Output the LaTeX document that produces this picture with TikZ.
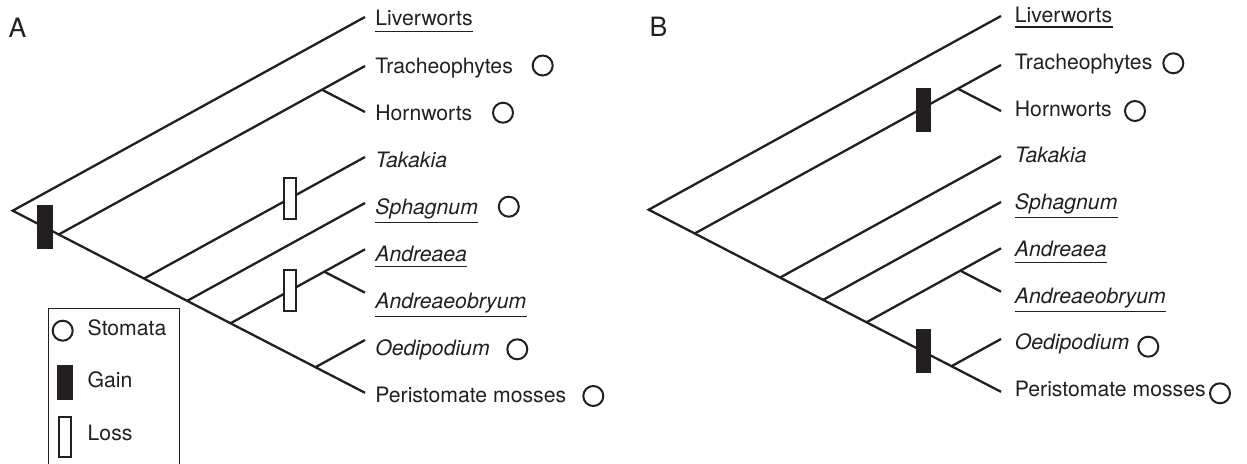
\documentclass[tikz,border=0pt]{standalone}
\usepackage{fontspec}
\setmainfont{TeX Gyre Heros}
\definecolor{ink}{RGB}{35,31,32}
\newcommand\treebranches{%
  \coordinate (root) at (12.7,210.7);
  \coordinate (lv) at (365,17);
  \coordinate (tr) at (365,66);
  \coordinate (ho) at (365,112);
  \coordinate (ta) at (365,157);
  \coordinate (sp) at (365,203);
  \coordinate (an) at (365,249.3);
  \coordinate (ab) at (365,292.7);
  \coordinate (oe) at (365,340);
  \coordinate (pe) at (365,392.8);
  \coordinate (ntr) at (58.7,234.5);
  \coordinate (nta) at (144,278.6);
  \coordinate (nsp) at (187.1,300.9);
  \coordinate (nan) at (230.5,323.3);
  \coordinate (noe) at (315.5,367.2);
  \coordinate (nho) at (321.9,89.7);
  \coordinate (nab) at (324.3,271.7);
  \draw[branch] (lv) -- (root) -- (pe);
  \draw[branch] (ntr) -- (tr);
  \draw[branch] (nho) -- (ho);
  \draw[branch] (nta) -- (ta);
  \draw[branch] (nsp) -- (sp);
  \draw[branch] (nan) -- (an);
  \draw[branch] (nab) -- (ab);
  \draw[branch] (noe) -- (oe);
}
\begin{document}
\begin{tikzpicture}[x=0.5pt,y=-0.5pt,
  branch/.style={line width=1.15pt, draw=ink},
  lbl/.style={anchor=base west, inner sep=0pt, text=ink, font=\fontsize{10.6}{12}\selectfont},
  ilbl/.style={lbl, font=\fontsize{10.6}{12}\selectfont\itshape},
  panel/.style={anchor=base west, inner sep=0pt, text=ink, font=\fontsize{13.3}{16}\selectfont},
  stoma/.style={circle, draw=ink, line width=1pt, minimum size=10pt, inner sep=0pt},
  gainbox/.style={rectangle, fill=ink, draw=none, minimum width=7.7pt, minimum height=22pt, inner sep=0pt},
  lossbox/.style={rectangle, fill=white, draw=ink, line width=1pt, minimum width=6.2pt, minimum height=20.2pt, inner sep=0pt},
  uline/.style={draw=ink, line width=0.75pt},
  legendframe/.style={draw=ink, line width=0.6pt}]
\useasboundingbox (0,0) rectangle (1247,464);

% ---------------- Panel A ----------------
\node[panel] (Alabel) at (8.3,37.3) {A};
\begin{scope}[name prefix=A-]
  \treebranches
\end{scope}
\node[gainbox] (A-g1) at (45,227.4) {};
\node[lossbox] (A-l1) at (289.7,198.4) {};
\node[lossbox] (A-l2) at (289.7,290.7) {};

\node[lbl]  (A-tlv) at (375,26)    {Liverworts};
\node[lbl]  (A-ttr) at (375,73.1)  {Tracheophytes};
\node[lbl]  (A-tho) at (375,120.2) {Hornworts};
\node[ilbl] (A-tta) at (375,167.3) {Takakia};
\node[ilbl] (A-tsp) at (375,214.4) {Sphagnum};
\node[ilbl] (A-tan) at (375,261.5) {Andreaea};
\node[ilbl] (A-tab) at (375,308.6) {Andreaeobryum};
\node[ilbl] (A-toe) at (375,355.7) {Oedipodium};
\node[lbl]  (A-tpe) at (375,402.8) {Peristomate mosses};

\draw[uline] ([yshift=-2.8pt]A-tlv.base west) -- ([yshift=-2.8pt]A-tlv.base east);
\draw[uline] ([yshift=-4pt]A-tsp.base west) -- ([yshift=-4pt]A-tsp.base east);
\draw[uline] ([yshift=-2.6pt]A-tan.base west) -- ([yshift=-2.6pt]A-tan.base east);
\draw[uline] ([yshift=-4pt]A-tab.base west) -- ([yshift=-4pt]A-tab.base east);

\node[stoma] (A-str) at (542.7,65.5) {};
\node[stoma] (A-sho) at (503,112.7) {};
\node[stoma] (A-ssp) at (508.8,206.7) {};
\node[stoma] (A-soe) at (517.3,349.3) {};
\node[stoma] (A-spe) at (593.3,396) {};

% legend
\draw[legendframe] (48.3,475) -- (48.3,308.3) -- (179.3,308.3) -- (179.3,475);
\node[stoma] (L-s) at (62.7,330.7) {};
\node[lbl] (L-ts) at (87.3,336) {Stomata};
\node[gainbox, minimum height=17.5pt] (L-g) at (65,382.5) {};
\node[lbl] (L-tg) at (87.3,387.3) {Gain};
\node[lossbox] (L-l) at (65,437.2) {};
\node[lbl] (L-tl) at (87.3,440) {Loss};

% ---------------- Panel B ----------------
\node[panel] (Blabel) at (649.3,37) {B};
\begin{scope}[name prefix=B-, shift={(636,-1)}]
  \treebranches
\end{scope}
\node[gainbox] (B-g1) at (923.3,109.8) {};
\node[gainbox] (B-g2) at (923.3,351) {};

\node[lbl]  (B-tlv) at (1014.5,22.7)  {Liverworts};
\node[lbl]  (B-ttr) at (1014.5,69.45) {Tracheophytes};
\node[lbl]  (B-tho) at (1014.5,116.2) {Hornworts};
\node[ilbl] (B-tta) at (1014.5,162.95) {Takakia};
\node[ilbl] (B-tsp) at (1014.5,209.7) {Sphagnum};
\node[ilbl] (B-tan) at (1014.5,256.45) {Andreaea};
\node[ilbl] (B-tab) at (1014.5,303.2) {Andreaeobryum};
\node[ilbl] (B-toe) at (1014.5,349.95) {Oedipodium};
\node[lbl]  (B-tpe) at (1014.5,396.7) {Peristomate mosses};

\draw[uline] ([yshift=-2.2pt]B-tlv.base west) -- ([yshift=-2.2pt]B-tlv.base east);
\draw[uline] ([yshift=-4pt]B-tsp.base west) -- ([yshift=-4pt]B-tsp.base east);
\draw[uline] ([yshift=-3pt]B-tan.base west) -- ([yshift=-3pt]B-tan.base east);
\draw[uline] ([yshift=-4.2pt]B-tab.base west) -- ([yshift=-4.2pt]B-tab.base east);

\node[stoma] (B-str) at (1173.3,63.3) {};
\node[stoma] (B-sho) at (1135,111) {};
\node[stoma] (B-soe) at (1148.3,346.7) {};
\node[stoma] (B-spe) at (1220,393.3) {};
\end{tikzpicture}
\end{document}
